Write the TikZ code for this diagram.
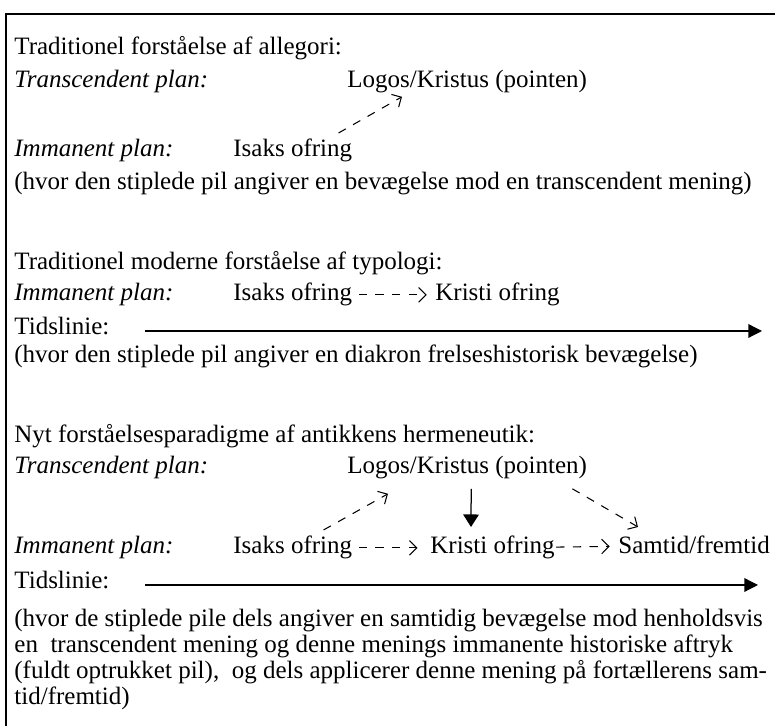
\documentclass[tikz,border=0pt]{standalone}
\usepackage{fontspec}
\setmainfont{Liberation Serif}
\usetikzlibrary{arrows.meta}

\begin{document}
\begin{tikzpicture}[x=0.48pt,y=-0.48pt,
  txt/.style={anchor=base west,inner sep=0pt,font=\fontsize{12}{14}\selectfont},
  lbl/.style={txt,font=\fontsize{12}{14}\selectfont\itshape},
  dash arrow/.style={-{Straight Barb[length=3.5pt,width=7pt]},dash pattern=on 4pt off 4pt,line width=0.5pt},
  full arrow/.style={-{Triangle[length=6pt,width=7.5pt]},line width=0.6pt},
  time line/.style={-{Triangle[length=6.5pt,width=6.5pt]},line width=0.6pt}]

  \useasboundingbox (0,0) rectangle (775,726);

  % frame (runs out of the picture at right and bottom)
  \coordinate (frameTR) at (775,14);
  \coordinate (frameTL) at (6,14);
  \coordinate (frameBL) at (6,726);
  \draw[line width=1.4pt] (frameTR) -- (frameTL) -- (frameBL);

  % allegori
  \node[txt] (headA) at (14,55) {Traditionel forståelse af allegori:};
  \node[lbl] (transA) at (14,88) {Transcendent plan:};
  \node[txt] (logosA) at (347,88) {Logos/Kristus (pointen)};
  \node[lbl] (immA) at (14,157) {Immanent plan:};
  \node[txt] (isaksA) at (233,157) {Isaks ofring};
  \node[txt] (noteA) at (14,190) {(hvor den stiplede pil angiver en bevægelse mod en transcendent mening)};

  % typologi
  \node[txt] (headB) at (14,270) {Traditionel moderne forståelse af typologi:};
  \node[lbl] (immB) at (14,301) {Immanent plan:};
  \node[txt] (isaksB) at (233,301) {Isaks ofring};
  \node[txt] (kristiB) at (435,301) {Kristi ofring};
  \node[txt] (tidsB) at (14,335) {Tidslinie:};
  \coordinate (tidsendB) at (762,331);
  \node[txt] (noteB) at (14,363) {(hvor den stiplede pil angiver en diakron frelseshistorisk bevægelse)};

  % nyt paradigme
  \node[txt] (headC) at (14,443) {Nyt forståelsesparadigme af antikkens hermeneutik:};
  \node[lbl] (transC) at (14,474) {Transcendent plan:};
  \node[txt] (logosC) at (347,474) {Logos/Kristus (pointen)};
  \node[lbl] (immC) at (14,554) {Immanent plan:};
  \node[txt] (isaksC) at (233,554) {Isaks ofring};
  \node[txt] (kristiC) at (430,554) {Kristi ofring};
  \node[txt] (samtidC) at (618,554) {Samtid/fremtid};
  \node[txt] (tidsC) at (14,589) {Tidslinie:};
  \coordinate (tidsendC) at (758,585);
  \node[txt] (noteC1) at (14,627) {(hvor de stiplede pile dels angiver en samtidig bevægelse mod henholdsvis};
  \node[txt] (noteC2) at (14,653) {en\ \ transcendent mening og denne menings immanente historiske aftryk};
  \node[txt] (noteC3) at (14,679) {(fuldt optrukket pil),\ \ og dels applicerer denne mening på fortællerens sam-};
  \node[txt] (noteC4) at (14,705) {tid/fremtid)};

  \draw[dash arrow] ([shift={(-14,-6)}]isaksA.north east) -- ([shift={(55,3)}]logosA.south west);

  \path[dash arrow]
    (isaksB) edge[shorten <=3pt,shorten >=4pt] (kristiB)
    (isaksC) edge[shorten <=3pt,shorten >=6pt] (kristiC)
    (kristiC) edge[shorten <=0.5pt,shorten >=4pt] (samtidC);

  \draw[dash arrow] ([shift={(-29,-6)}]isaksC.north east) -- ([shift={(41,14)}]logosC.south west);
  \draw[dash arrow] ([shift={(-15,9)}]logosC.south east) -- ([shift={(20,-9)}]samtidC.north west);
  \draw[full arrow] ([shift={(4,9)}]logosC.south) -- ([shift={(41,-9)}]kristiC.north west);

  \draw[time line] ([shift={(35,-4)}]tidsB.base east) -- (tidsendB);
  \draw[time line] ([shift={(35,-4)}]tidsC.base east) -- (tidsendC);

\end{tikzpicture}
\end{document}
